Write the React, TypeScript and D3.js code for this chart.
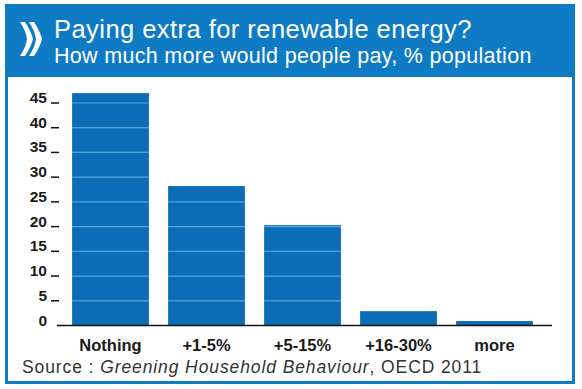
import React, { useEffect, useRef } from 'react';
import * as d3 from 'd3';

const categories = ['Nothing', '+1-5%', '+5-15%', '+16-30%', 'more'];
const values = [47, 28.2, 20.3, 2.9, 0.9];
const yTicks = [0, 5, 10, 15, 20, 25, 30, 35, 40, 45];

const title = 'Paying extra for renewable energy?';
const subtitle = 'How much more would people pay, % population';

const BLUE = '#0f7bc4';
const BAR = '#0a6db6';
const FONT = '"Liberation Sans", Arial, sans-serif';

export default function App() {
  const svgRef = useRef<SVGSVGElement>(null);

  useEffect(() => {
    if (!svgRef.current) return;
    const svg = d3.select(svgRef.current);
    svg.selectAll('*').remove();

    // Frame + header band
    svg.append('rect').attr('width', 582).attr('height', 389).attr('fill', '#fff');
    svg.append('rect')
      .attr('x', 6.5).attr('y', 5.5).attr('width', 567).attr('height', 377)
      .attr('fill', '#fff').attr('stroke', BLUE).attr('stroke-width', 3);
    svg.append('rect')
      .attr('x', 5).attr('y', 4).attr('width', 570).attr('height', 73)
      .attr('fill', BLUE);

    // Chevrons (logo)
    const chev = (x0: number) =>
      `M${x0 - 1},22 L${x0 + 4},22 Q${x0 + 10},31 ${x0 + 12},39 Q${x0 + 10},47 ${x0 + 4},56 ` +
      `L${x0 - 1},56 Q${x0 + 5},47 ${x0 + 6},39 Q${x0 + 5},31 ${x0 - 1},22 Z`;
    svg.append('path').attr('d', chev(21)).attr('fill', '#fff');
    svg.append('path').attr('d', chev(30)).attr('fill', '#fff');

    svg.append('text')
      .attr('x', 54).attr('y', 38)
      .attr('fill', '#fff')
      .style('font-family', FONT).style('font-size', '25.5px')
      .style('letter-spacing', '0.45px')
      .text(title);
    svg.append('text')
      .attr('x', 54).attr('y', 63)
      .attr('fill', '#fff')
      .style('font-family', FONT).style('font-size', '21.5px')
      .style('letter-spacing', '0.3px')
      .text(subtitle);

    // Scales
    const x = d3.scaleBand<string>()
      .domain(categories)
      .range([62.5, 542.5])
      .paddingInner(0.2)
      .paddingOuter(0.1);

    const y = d3.scaleLinear()
      .domain([0, 45])
      .range([325.5, 103]);

    const g = svg.append('g');

    // Bars
    g.selectAll('rect.bar')
      .data(values)
      .enter()
      .append('rect')
      .attr('class', 'bar')
      .attr('x', (_, i) => x(categories[i]) || 0)
      .attr('y', d => y(d))
      .attr('width', x.bandwidth())
      .attr('height', d => y(0) - y(d))
      .attr('fill', BAR);

    // light gridlines, only visible across the bars
    values.forEach((v, i) => {
      yTicks.filter(t => t > 0 && t < v).forEach(t => {
        g.append('line')
          .attr('x1', x(categories[i]) || 0)
          .attr('x2', (x(categories[i]) || 0) + x.bandwidth())
          .attr('y1', y(t)).attr('y2', y(t))
          .attr('stroke', '#5aa6dc').attr('stroke-width', 1.2);
      });
    });

    // Baseline
    g.append('line')
      .attr('x1', 57).attr('x2', 552)
      .attr('y1', y(0)).attr('y2', y(0))
      .attr('stroke', '#111').attr('stroke-width', 1.5);

    // Y ticks (short dashes) + labels
    const yt = g.selectAll('g.ytick')
      .data(yTicks)
      .enter()
      .append('g')
      .attr('transform', d => `translate(0,${y(d)})`);
    yt.filter(d => d > 0).append('line')
      .attr('x1', 51).attr('x2', 59)
      .attr('stroke', '#111').attr('stroke-width', 1.5);
    yt.append('text')
      .attr('x', 47).attr('y', 0)
      .attr('text-anchor', 'end')
      .attr('fill', '#1a1a1a')
      .style('font-family', FONT).style('font-size', '15.5px')
      .style('font-weight', 'bold')
      .text(d => d);

    // Category labels
    g.selectAll('text.cat')
      .data(categories)
      .enter()
      .append('text')
      .attr('x', d => (x(d) || 0) + x.bandwidth() / 2)
      .attr('y', 351)
      .attr('text-anchor', 'middle')
      .attr('fill', '#1a1a1a')
      .style('font-family', FONT).style('font-size', '16.5px')
      .style('font-weight', 'bold')
      .text(d => d);

    // Source
    const src = svg.append('text')
      .attr('x', 22).attr('y', 373)
      .attr('fill', '#333')
      .style('font-family', FONT).style('font-size', '17.5px')
      .style('letter-spacing', '0.9px');
    src.append('tspan').text('Source : ');
    src.append('tspan').style('font-style', 'italic').text('Greening Household Behaviour');
    src.append('tspan').text(', OECD 2011');
  }, []);

  return (
    <svg
      ref={svgRef}
      width={582}
      height={389}
      viewBox="0 0 582 389"
      style={{ position: 'absolute', left: 0, top: 0, display: 'block' }}
    />
  );
}
